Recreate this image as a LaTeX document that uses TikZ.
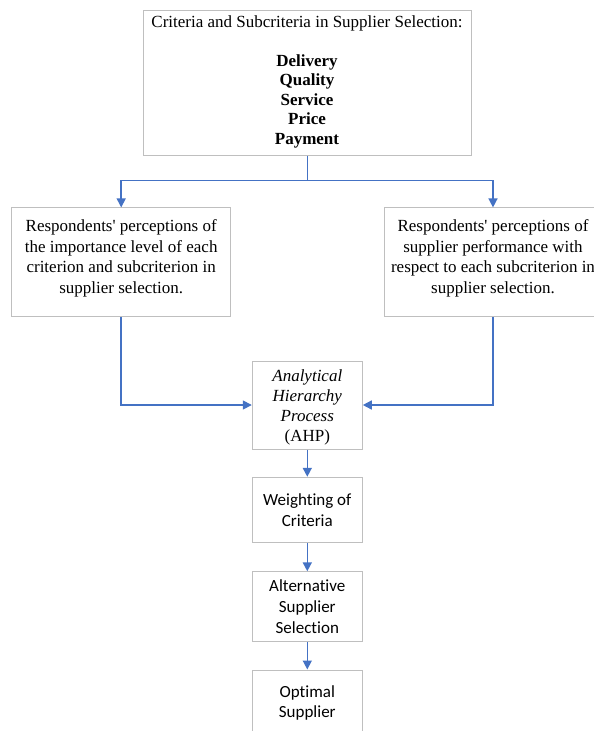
\documentclass[tikz,border=0pt]{standalone}
\usepackage{fontspec}
\setmainfont{Liberation Serif}
\newfontfamily\calibri[Ligatures=NoCommon]{Carlito}
\usetikzlibrary{arrows.meta}
\definecolor{frame}{RGB}{191, 191, 191}
\definecolor{flow}{HTML}{4472C4}
\tikzset{
    box/.style={draw=frame,line width=1pt,inner sep=0pt},
    serif/.style={font=\fontsize{17}{20.6}\selectfont,align=center,inner sep=0pt},
    sans/.style={box,font=\calibri\fontsize{17}{20.7}\selectfont,align=center,minimum width=110pt},
    link/.style={draw=flow,line width=1.5pt,-{Triangle[length=9pt,width=9pt]}}
}

\begin{document}
\begin{tikzpicture}[x=1pt,y=-1pt]
			\useasboundingbox (0,0) rectangle (594,731);
			\node[box, minimum width=328pt, minimum height=145pt] (crit) at (307.5,82.5) {};
			\node[serif, font=\fontsize{17}{19.5}\selectfont] (crittxt) at (307,81.8) {Criteria and Subcriteria in Supplier Selection:\\[19.5pt]
				\textbf{Delivery}\\ \textbf{Quality}\\ \textbf{Service}\\ \textbf{Price}\\ \textbf{Payment}};
			\node[box, minimum width=219pt, minimum height=109pt] (resp1) at (121.2,262.4) {};
			\node[serif] (resp1txt) at (121.2,258.5) {Respondents\textquotesingle{} perceptions of\\ the importance level of each\\ criterion and subcriterion in\\ supplier selection.};
			\node[box, minimum width=218pt, minimum height=109pt] (resp2) at (493,262.4) {};
			\node[serif] (resp2txt) at (493,258.5) {Respondents\textquotesingle{} perceptions of\\ supplier performance with\\ respect to each subcriterion in\\ supplier selection.};
			\node[box, minimum width=110pt, minimum height=88pt] (ahp) at (307.3,405) {};
			\node[serif, font=\fontsize{17}{20}\selectfont] (ahptxt) at (307.3,407.5) {\textit{Analytical}\\ \textit{Hierarchy}\\ \textit{Process}\\ (AHP)};
			\node[sans, minimum height=65.4pt] (weight) at (307.3,510) {Weighting of\\ Criteria};
			\node[sans, minimum height=70pt] (alt) at (307.3,606.8) {Alternative\\ Supplier\\ Selection};
			\node[sans, minimum height=66pt] (optimal) at (307.3,703) {Optimal\\ Supplier};
			\coordinate (fork) at (307.5,180.3);
			\draw[link] (crit.south) -- (fork) -| (resp1.north);
			\draw[link] (fork) -| (resp2.north);
			\draw[link] (resp1.south) |- (ahp.west);
			\draw[link] (resp2.south) |- (ahp.east);
			\draw[link] (ahp) -- (weight);
			\draw[link] (weight) -- (alt);
			\draw[link] (alt) -- (optimal);
		\end{tikzpicture}
\end{document}
